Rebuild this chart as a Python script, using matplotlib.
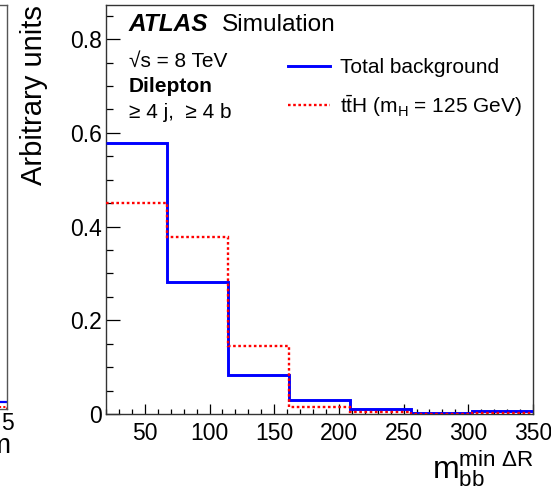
import numpy as np
import matplotlib
matplotlib.use("Agg")
import matplotlib.pyplot as plt
from matplotlib.ticker import MultipleLocator, FixedLocator, FuncFormatter

plt.rcParams['font.family'] = ['Liberation Sans', 'DejaVu Sans']
plt.rcParams['mathtext.fontset'] = 'custom'
plt.rcParams['mathtext.rm'] = 'Liberation Sans'
plt.rcParams['mathtext.it'] = 'Liberation Sans:italic'
plt.rcParams['mathtext.bf'] = 'Liberation Sans:bold'

# ---- data ----
bin_edges = np.linspace(20, 350, 8)
total_background = [0.579, 0.281, 0.084, 0.029, 0.010, 0.003, 0.007]
tth_signal = [0.451, 0.378, 0.146, 0.016, 0.004, 0.001, 0.002]
x_ticks = [50, 100, 150, 200, 250, 300, 350]
y_ticks = [0, 0.2, 0.4, 0.6, 0.8]
# fragment of neighbouring panel (cropped at left edge)
left_edges = [4.0, 5.0]
left_background = [0.017]
left_signal = [0.006]

W, H = 551, 490
fig = plt.figure(figsize=(W / 100, H / 100), dpi=100)

def fx(px):
    return px / W

def fy(py):
    return 1 - py / H

# main axes
x0, x1, y0, y1 = 106, 533, 5, 414
ax = fig.add_axes([fx(x0), fy(y1), fx(x1) - fx(x0), fy(y0) - fy(y1)])

ax.stairs(total_background, bin_edges, baseline=None, color='#0000ff', lw=2.1,
          label='Total background', zorder=3)
ax.stairs(tth_signal, bin_edges, baseline=None, color='#ff0000', lw=1.7,
          linestyle=(0, (1.1, 1.1)), label=r'$\mathrm{t\bar{t}H}$ (m$_\mathrm{H}$ = 125 GeV)', zorder=4)

ax.set_xlim(20, 350)
ax.set_ylim(0, 0.873)
ax.xaxis.set_major_locator(FixedLocator(x_ticks))
ax.xaxis.set_minor_locator(MultipleLocator(10))
ax.yaxis.set_major_locator(FixedLocator(y_ticks))
ax.yaxis.set_minor_locator(MultipleLocator(0.05))
ax.yaxis.set_major_formatter(FuncFormatter(lambda v, p: '0' if abs(v) < 1e-9 else f'{v:.1f}'))

ax.tick_params(axis='both', which='both', direction='in', labelsize=16.5, colors='black')
ax.tick_params(axis='y', which='major', length=10, width=0.9, pad=3)
ax.tick_params(axis='y', which='minor', length=5, width=0.9)
ax.tick_params(axis='x', which='major', length=7, width=0.9, pad=6)
ax.tick_params(axis='x', which='minor', length=3.5, width=0.9)
for s in ax.spines.values():
    s.set_linewidth(1.0)
    s.set_color('#333333')

ax.set_ylabel('Arbitrary units', fontsize=21, ha='right', y=1.0)
ax.yaxis.set_label_coords(-0.136, 1.0)
ax.set_xlabel(r'$\mathrm{m}_{\mathrm{bb}}^{\mathrm{min}\ \Delta\mathrm{R}}$', fontsize=23, ha='right', x=1.0)
ax.xaxis.set_label_coords(1.0, -0.085)

# annotations
ax.text(fx(129), fy(31), 'ATLAS', transform=fig.transFigure, fontsize=17.6,
        fontweight='bold', fontstyle='italic', va='baseline')
ax.text(fx(222), fy(31), 'Simulation', transform=fig.transFigure, fontsize=17.6, va='baseline')
ax.text(fx(129), fy(67), '√s = 8 TeV', transform=fig.transFigure, fontsize=15, va='baseline')
ax.text(fx(129), fy(92), 'Dilepton', transform=fig.transFigure, fontsize=15,
        fontweight='bold', va='baseline')
ax.text(fx(129), fy(118), '≥ 4 j,  ≥ 4 b', transform=fig.transFigure, fontsize=15, va='baseline')

leg = ax.legend(loc='upper left', bbox_to_anchor=(fx(288), fy(58)), bbox_transform=fig.transFigure,
                frameon=False, fontsize=15, handlelength=2.0, handletextpad=0.5,
                labelspacing=0.75, borderpad=0, borderaxespad=0)

# fragment of the neighbouring panel at the left edge
axl = fig.add_axes([fx(-300), fy(409), fx(307), fy(5) - fy(409)])
axl.stairs(left_background, left_edges, baseline=None, color='#0000ff', lw=1.6)
axl.stairs(left_signal, left_edges, baseline=0, color='#ff0000', lw=1.4, linestyle=(0, (1.1, 1.1)))
axl.set_xlim(0, 5)
axl.set_ylim(0, 1)
axl.set_xticks([5])
axl.set_xticklabels(['5'])
axl.set_yticks([])
axl.tick_params(axis='x', direction='in', length=0, labelsize=16.5, pad=2)
for s in axl.spines.values():
    s.set_linewidth(1.0)
    s.set_color('#555555')
fig.text(fx(-13), fy(453), 'm', fontsize=20, va='baseline')

fig.savefig('out.png', dpi=100)
